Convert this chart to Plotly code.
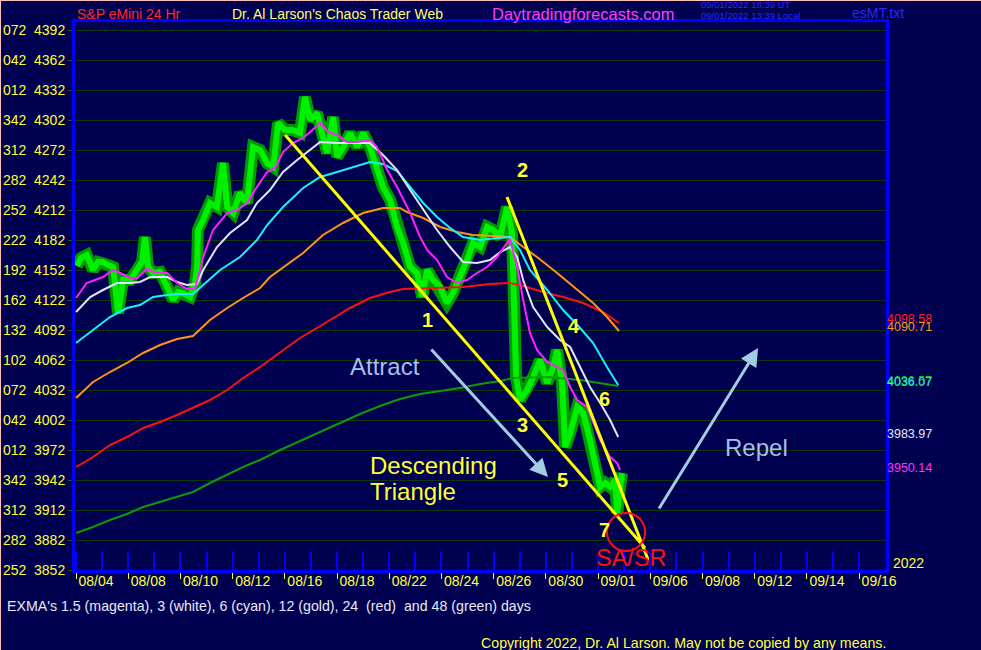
import plotly.graph_objects as go

# ---------------- DATA ----------------
# x = trading-day index (0 = 08/04/2022, 2 = 08/08, ... ), y = S&P eMini price
date_ticks = [0, 2, 4, 6, 8, 10, 12, 14, 16, 18, 20, 22, 24, 26, 28, 30]
date_labels = ["08/04", "08/08", "08/10", "08/12", "08/16", "08/18", "08/22", "08/24",
               "08/26", "08/30", "09/01", "09/06", "09/08", "09/12", "09/14", "09/16"]

price_levels = [3852, 3882, 3912, 3942, 3972, 4002, 4032, 4062, 4092, 4122,
                4152, 4182, 4212, 4242, 4272, 4302, 4332, 4362, 4392]
degree_labels = ["252", "282", "312", "342", "012", "042", "072", "102", "132", "162",
                 "192", "222", "252", "282", "312", "342", "012", "042", "072"]

price_day = [0.03, 0.19, 0.41, 0.65, 0.84, 1.03, 1.23, 1.42, 1.61, 1.80, 2.07, 2.34, 2.53, 2.64,
             2.76, 2.95, 3.22, 3.49, 3.72, 3.91, 4.10, 4.37, 4.56, 4.64, 4.67, 4.87, 5.13, 5.40,
             5.63, 5.79, 6.02, 6.28, 6.55, 6.78, 7.05, 7.32, 7.55, 7.74, 8.01, 8.28, 8.58, 8.77,
             8.97, 9.23, 9.43, 9.62, 9.85, 10.00, 10.23, 10.50, 10.77, 11.00, 11.26, 11.53, 11.76,
             12.03, 12.30, 12.53, 12.80, 13.07, 13.26, 13.45, 13.68, 13.95, 14.21, 14.44, 14.71,
             14.98, 15.21, 15.48, 15.75, 15.98, 16.25, 16.51, 16.70, 16.78, 16.86, 17.01, 17.28,
             17.51, 17.78, 18.05, 18.28, 18.43, 18.62, 18.74, 18.93, 19.20, 19.43, 19.69, 19.89,
             20.08, 20.27, 20.46, 20.65, 20.73, 20.84, 20.92]
price_val = [4156, 4164, 4167, 4152, 4160, 4160, 4157, 4155, 4109, 4142, 4142, 4152, 4160, 4185,
             4155, 4149, 4150, 4135, 4122, 4130, 4129, 4125, 4139, 4157, 4192, 4202, 4219, 4215,
             4259, 4215, 4209, 4229, 4219, 4275, 4272, 4259, 4255, 4299, 4292, 4292, 4289, 4325,
             4302, 4309, 4285, 4269, 4305, 4265, 4275, 4289, 4275, 4289, 4275, 4252, 4235,
             4222, 4195, 4179, 4155, 4149, 4125, 4152, 4142, 4135, 4119, 4129, 4145,
             4162, 4179, 4175, 4195, 4192, 4185, 4215, 4189, 4122, 4044, 4022, 4032,
             4045, 4062, 4039, 4055, 4072, 4039, 3975, 3989, 4015, 4009, 3982, 3959,
             3935, 3939, 3935, 3942, 3909, 3935, 3949]

ma15_day = [0.00, 0.41, 1.03, 1.42, 1.69, 2.07, 2.34, 2.72, 3.10, 3.49, 3.87, 4.25, 4.56, 4.87,
            5.25, 5.79, 6.17, 6.55, 6.93, 7.32, 7.62, 7.93, 8.31, 8.70, 8.97, 9.35, 9.66, 10.00,
            10.38, 10.77, 11.26, 11.53, 11.92, 12.30, 12.80, 13.18, 13.45, 13.83, 14.21, 14.60,
            14.98, 15.36, 15.75, 16.13, 16.51, 16.63, 16.90, 17.13, 17.39, 17.66, 18.05, 18.43,
            18.66, 18.93, 19.20, 19.58, 19.81, 20.08, 20.46, 20.73, 20.84]
ma15_val = [4124, 4139, 4145, 4152, 4149, 4144, 4144, 4153, 4149, 4149, 4139, 4133, 4133, 4165,
            4192, 4209, 4212, 4219, 4235, 4250, 4254, 4270, 4279, 4284, 4290, 4299, 4290, 4287,
            4280, 4280, 4282, 4275, 4252, 4235, 4209, 4185, 4172, 4162, 4145, 4139,
            4142, 4149, 4155, 4165, 4179, 4182, 4155, 4122, 4089, 4072, 4060, 4055,
            4052, 4035, 4022, 4015, 3999, 3982, 3965, 3959, 3952]

ma3_day = [0.00, 0.54, 1.03, 1.57, 2.07, 2.45, 2.84, 3.49, 3.87, 4.25, 4.64, 4.87, 5.40, 5.90,
           6.55, 6.93, 7.43, 7.93, 8.47, 8.97, 9.35, 10.00, 10.61, 11.26, 11.76, 12.30, 12.80,
           13.30, 13.83, 14.33, 14.83, 15.36, 15.86, 16.25, 16.63, 16.90, 17.13, 17.51, 18.05,
           18.54, 18.93, 19.31, 19.69, 20.08, 20.46, 20.77]
ma3_val = [4110, 4125, 4132, 4139, 4139, 4140, 4145, 4145, 4140, 4137, 4138, 4152, 4175, 4189,
           4202, 4219, 4232, 4250, 4262, 4272, 4280, 4279, 4279, 4279, 4267, 4252, 4232,
           4212, 4192, 4175, 4160, 4159, 4162, 4170, 4175, 4165, 4142, 4115, 4095,
           4082, 4075, 4055, 4035, 4019, 4002, 3985]

ma6_day = [0.00, 0.65, 1.30, 1.95, 2.45, 2.95, 3.49, 3.98, 4.48, 4.87, 5.52, 6.28, 6.93, 7.32,
           7.93, 8.70, 9.35, 10.00, 10.61, 11.26, 11.76, 12.30, 12.80, 13.30, 13.83, 14.33,
           14.83, 15.48, 16.13, 16.63, 17.01, 17.39, 18.05, 18.66, 19.31, 19.81, 20.34, 20.77]
ma6_val = [4079, 4092, 4105, 4114, 4117, 4125, 4127, 4128, 4128, 4137, 4152, 4165, 4182, 4197,
           4215, 4234, 4245, 4250, 4255, 4260, 4258, 4251, 4235, 4219, 4205, 4194,
           4185, 4182, 4184, 4185, 4172, 4152, 4132, 4112, 4094, 4079, 4055, 4037]

ma12_day = [0.00, 0.65, 1.30, 1.95, 2.57, 3.22, 3.87, 4.48, 5.13, 5.79, 6.40, 7.05, 7.43, 8.70,
            9.46, 10.23, 11.00, 11.76, 12.41, 12.68, 13.30, 13.95, 14.60, 15.21, 15.98, 16.63,
            17.13, 17.66, 18.43, 19.20, 19.81, 20.34, 20.80]
ma12_val = [4024, 4040, 4050, 4059, 4069, 4077, 4083, 4086, 4102, 4114, 4124, 4134, 4145, 4169,
            4187, 4199, 4209, 4214, 4214, 4210, 4204, 4195, 4190, 4187, 4186, 4185,
            4175, 4165, 4149, 4132, 4119, 4105, 4091]

ma24_day = [0.00, 0.65, 1.30, 1.95, 2.57, 3.22, 3.87, 4.48, 5.13, 5.79, 6.40, 7.05, 7.82, 8.58,
            9.23, 9.73, 10.50, 11.26, 12.03, 12.53, 13.56, 14.83, 15.86, 16.63, 17.13, 17.89,
            18.66, 19.43, 20.19, 20.80]
ma24_val = [3955, 3965, 3977, 3985, 3994, 4000, 4007, 4014, 4022, 4032, 4044, 4055, 4070, 4084,
            4094, 4102, 4114, 4124, 4130, 4133, 4134, 4135, 4138, 4139, 4136, 4130,
            4125, 4119, 4110, 4099]

ma48_day = [0.00, 0.65, 1.30, 1.95, 2.57, 3.22, 3.87, 4.48, 5.13, 5.79, 6.40, 7.05, 7.82, 8.58,
            9.35, 10.11, 10.88, 11.65, 12.41, 13.18, 13.95, 14.71, 15.48, 16.25, 16.74, 18.05,
            19.31, 20.77]
ma48_val = [3889, 3895, 3902, 3908, 3915, 3920, 3925, 3930, 3939, 3947, 3955, 3962, 3972, 3981,
            3990, 3999, 4008, 4016, 4023, 4028, 4031, 4034, 4038, 4041, 4044, 4045,
            4042, 4036]

last_values = [("4098.58", "#ff2020"), ("4090.71", "#ff9a1a"), ("4036.57", "#10c010"),
               ("4036.07", "#20e8f0"), ("3983.97", "#e8e8ff"), ("3950.14", "#ff30ff")]
last_numbers = [4098.58, 4090.71, 4036.57, 4036.07, 3983.97, 3950.14]

# trend lines (day, price)
line1_day = [8.01, 21.80]
line1_val = [4287, 3874]
line2_day = [16.51, 21.92]
line2_val = [4225, 3862]

# ---------------- STYLE / LAYOUT ----------------
BG = "#000050"
FONT = "Liberation Sans, Arial, sans-serif"
W, H = 981, 650
ML, MR, MT, MB = 75, 95, 22, 80
PW, PH = W - ML - MR, H - MT - MB


def pxx(x):
    return (x - ML) / PW


def pxy(y):
    return (H - MB - y) / PH


fig = go.Figure()

# price band (thick green with dark outline)
fig.add_trace(go.Scatter(x=price_day, y=price_val, mode="lines",
                         line=dict(color="#009a00", width=12), hoverinfo="skip"))
fig.add_trace(go.Scatter(x=price_day, y=price_val, mode="lines",
                         line=dict(color="#00f000", width=6), hoverinfo="skip"))

for xs, ys, col, w in [(ma48_day, ma48_val, "#0a9a0a", 2),
                       (ma24_day, ma24_val, "#ff1010", 2),
                       (ma12_day, ma12_val, "#ff9410", 2),
                       (ma6_day, ma6_val, "#18f0ff", 2),
                       (ma3_day, ma3_val, "#e4e4ff", 2),
                       (ma15_day, ma15_val, "#ff20ff", 2)]:
    fig.add_trace(go.Scatter(x=xs, y=ys, mode="lines", line=dict(color=col, width=w),
                             hoverinfo="skip"))

for xs, ys in [(line1_day, line1_val), (line2_day, line2_val)]:
    fig.add_trace(go.Scatter(x=xs, y=ys, mode="lines", line=dict(color="#ffff00", width=3),
                             hoverinfo="skip"))

# invisible trace to carry the day-tick axis
fig.add_trace(go.Scatter(x=[date_ticks[0]], y=[price_levels[0]], xaxis="x2", mode="markers",
                         marker=dict(opacity=0), hoverinfo="skip"))

XR = [-0.04, 31.03]
ann = []


def text(x, y, s, color, size, anchor="left", bold=False):
    ann.append(dict(x=pxx(x), y=pxy(y), xref="paper", yref="paper", text=(f"<b>{s}</b>" if bold else s),
                    showarrow=False, xanchor=anchor, yanchor="middle",
                    font=dict(family=FONT, size=size, color=color)))


# header
text(75, 14, "S&amp;P eMini 24 Hr", "#ff2a2a", 14)
text(230, 14, "Dr. Al Larson's Chaos Trader Web", "#ffff70", 14)
text(490, 14, "Daytradingforecasts.com", "#ff3cff", 16.5)
text(699, 5, "09/01/2022 18:39 UT", "#2a2aff", 9.5)
text(699, 16, "09/01/2022 13:39 Local", "#2a2aff", 9.5)
text(850, 13, "esMT.txt", "#2a2aee", 14)

# right-side last values
for (s, col), v in zip(last_values, last_numbers):
    ann.append(dict(x=1.0, y=v, xref="paper", yref="y", text=s, showarrow=False,
                    xanchor="left", yanchor="middle", yshift=4, xshift=-1,
                    font=dict(family=FONT, size=12.5, color=col)))

text(891, 563, "2022", "#ffff40", 14)

# footer
text(5, 606, "EXMA's 1.5 (magenta), 3 (white), 6 (cyan), 12 (gold), 24  (red)  and 48 (green) days",
     "#e8e8f4", 14.2)
text(479, 643, "Copyright 2022, Dr. Al Larson. May not be copied by any means.", "#ffff40", 14.2)

# wave labels
for s, x, y in [("1", 427, 320), ("2", 522, 170), ("3", 522, 425), ("4", 574, 326),
                ("5", 562, 480), ("6", 604, 399), ("7", 604, 530)]:
    text(x, y, s, "#ffff30", 20, anchor="center", bold=True)

text(631, 558, "SA/SR", "#ff1010", 23.5, anchor="center")
text(348, 366, "Attract", "#a8bfe6", 24)
text(723, 447, "Repel", "#a8bfe6", 24)
text(368, 465, "Descending", "#ffff30", 24)
text(368, 491, "Triangle", "#ffff30", 24)

# arrows (head x,y ; tail ax,ay in data units)
for hx, hy, tx, ty in [(18.08, 3945, 13.56, 4074), (26.13, 4074, 22.30, 3912)]:
    ann.append(dict(x=hx, y=hy, ax=tx, ay=ty, xref="x", yref="y", axref="x", ayref="y",
                    text="", showarrow=True, arrowhead=2, arrowsize=1.2, arrowwidth=3,
                    arrowcolor="#a2cce2"))

shapes = [
    dict(type="circle", xref="x", yref="y", x0=20.34, x1=21.80, y0=3871, y1=3909,
         line=dict(color="#ff1010", width=2)),
    dict(type="line", xref="paper", yref="paper", x0=pxx(0.5), x1=pxx(0.5), y0=pxy(0), y1=pxy(650),
         line=dict(color="#ffc0c0", width=1)),
    dict(type="line", xref="paper", yref="paper", x0=pxx(0), x1=pxx(981), y0=pxy(0.5), y1=pxy(0.5),
         line=dict(color="#ffc0c0", width=1)),
]

fig.update_layout(
    width=W, height=H, margin=dict(l=ML, r=MR, t=MT, b=MB, pad=0, autoexpand=False),
    paper_bgcolor=BG, plot_bgcolor=BG, showlegend=False,
    annotations=ann, shapes=shapes,
    xaxis=dict(range=XR, tickvals=date_ticks, ticktext=date_labels, ticks="outside",
               ticklen=6, tickwidth=1, tickcolor="#ffff40", ticklabelshift=20,
               ticklabelstandoff=-10, automargin=False,
               tickfont=dict(family=FONT, size=14, color="#ffff40"),
               showline=True, linecolor="#0000ff", linewidth=3, mirror=True,
               showgrid=False, zeroline=False),
    xaxis2=dict(range=XR, overlaying="x", anchor="y", side="bottom", tick0=0, dtick=1,
                ticks="inside", ticklen=18, tickwidth=2, tickcolor="#0000ff", automargin=False,
                showticklabels=False, showgrid=False, zeroline=False, showline=False),
    yaxis=dict(range=[3852, 4400], tickvals=price_levels, automargin=False,
               ticktext=[f"{d}  {p}" for d, p in zip(degree_labels, price_levels)],
               ticks="outside", ticklen=4, tickcolor="#0a5a0a",
               tickfont=dict(family=FONT, size=14, color="#ffff30"),
               showgrid=True, gridcolor="#0a3a0a", gridwidth=1,
               showline=True, linecolor="#0000ff", linewidth=3, mirror=True,
               zeroline=False),
)

fig.write_html("out.html", config={"displayModeBar": False},
               post_script="document.body.style.margin='0';document.body.style.overflow='hidden';")
